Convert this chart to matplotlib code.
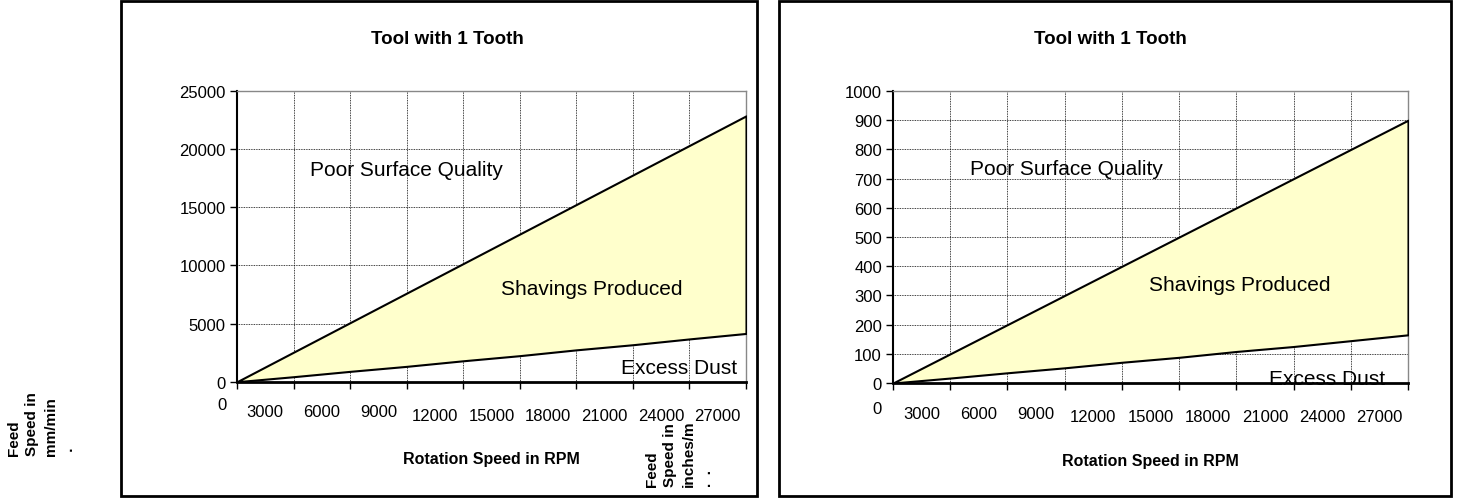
import matplotlib.pyplot as plt
from matplotlib.patches import Rectangle

plt.rcParams['font.family'] = ['Liberation Sans', 'DejaVu Sans']

# data: feed speed limits at each rotation speed step
rpm = [0, 3000, 6000, 9000, 12000, 15000, 18000, 21000, 24000, 27000]
rpm_labels = ["3000", "6000", "9000", "12000", "15000", "18000", "21000", "24000", "27000"]
upper_in = [0, 100, 200, 300, 400, 500, 600, 700, 800, 900]
lower_in = [0, 17, 35, 52, 71, 88, 108, 125, 145, 165]
upper_mm = [0, 2540, 5080, 7620, 10160, 12700, 15240, 17780, 20320, 22860]
lower_mm = [0, 430, 890, 1320, 1800, 2240, 2740, 3180, 3680, 4150]

W, H = 1457, 502
fig = plt.figure(figsize=(W / 100, H / 100), dpi=100)

# chart frames
for x0, x1 in [(121, 757), (779, 1451)]:
    fig.patches.append(Rectangle((x0 / W, 1 - 497 / H), (x1 - x0) / W, 495 / H,
                                 transform=fig.transFigure, fill=False,
                                 edgecolor='black', lw=2))


def make_panel(rect, upper, lower, ymax, ystep, labels_pos, zero_pos, lab_y):
    ax = fig.add_axes(rect)
    idx = list(range(len(rpm)))
    ax.fill_between(idx, lower, upper, facecolor='#FFFFCC', edgecolor='black', lw=1.5, zorder=3)
    ax.set_xlim(0, len(rpm) - 1)
    ax.set_ylim(0, ymax)
    ax.set_xticks(idx)
    ax.set_xticklabels([])
    ax.set_yticks(range(0, ymax + 1, ystep))
    ax.tick_params(axis='both', direction='out', length=5, width=1, labelsize=12)
    ax.tick_params(axis='y', pad=3)
    ax.grid(True, color='black', linestyle=(0, (1, 1)), lw=0.6, zorder=1)
    for s in ['top', 'right']:
        ax.spines[s].set_color('#888888')
        ax.spines[s].set_linewidth(1)
    ax.spines['left'].set_linewidth(1.5)
    ax.spines['bottom'].set_linewidth(2)
    ax.spines['bottom'].set_zorder(5)
    tr = ax.get_xaxis_transform()
    for i, lab in enumerate(rpm_labels):
        yy = lab_y[0] if i < 3 else lab_y[1]
        ax.text(i + 0.5, yy, lab, transform=tr, ha='center', va='center', fontsize=12)
    ax.text(zero_pos[0], zero_pos[1], "0", transform=tr, ha='center', va='center', fontsize=12)
    ax.text(0.5, -0.265, "Rotation Speed in RPM", transform=ax.transAxes,
            ha='center', va='center', fontsize=11.5, weight='bold')
    ax.text(labels_pos[0][0], labels_pos[0][1], "Poor Surface Quality", transform=ax.transAxes,
            ha='center', va='center', fontsize=15, zorder=6)
    ax.text(labels_pos[1][0], labels_pos[1][1], "Shavings Produced", transform=ax.transAxes,
            ha='center', va='center', fontsize=15, zorder=6)
    ax.text(labels_pos[2][0], labels_pos[2][1], "Excess Dust", transform=ax.transAxes,
            ha='center', va='center', fontsize=15, zorder=6, clip_on=False)
    return ax


ax1 = make_panel([237 / W, 1 - 382.7 / H, 509 / W, 290.7 / H], upper_mm, lower_mm, 25000, 5000,
                 [(0.333, 0.73), (0.696, 0.32), (0.868, 0.05)], (-0.265, -0.08), (-0.104, -0.115))
ax2 = make_panel([893 / W, 1 - 384 / H, 515 / W, 292 / H], upper_in, lower_in, 1000, 100,
                 [(0.336, 0.733), (0.674, 0.339), (0.843, 0.017)], (-0.28, -0.086), (-0.106, -0.116))

fig.text(447 / W, 1 - 40 / H, "Tool with 1 Tooth", ha='center', va='center', fontsize=13.5, weight='bold')
fig.text(1110 / W, 1 - 40 / H, "Tool with 1 Tooth", ha='center', va='center', fontsize=13.5, weight='bold')

fig.text(7 / W, 1 - 456 / H, "Feed\nSpeed in\nmm/min\n .", rotation=90, ha='left', va='bottom',
         fontsize=11, weight='bold', multialignment='left', linespacing=1.4)
fig.text(645 / W, 1 - 487 / H, "Feed\nSpeed in\ninches/m\n.  .", rotation=90, ha='left', va='bottom',
         fontsize=11, weight='bold', multialignment='left', linespacing=1.4)

fig.savefig("out.png", dpi=100)
